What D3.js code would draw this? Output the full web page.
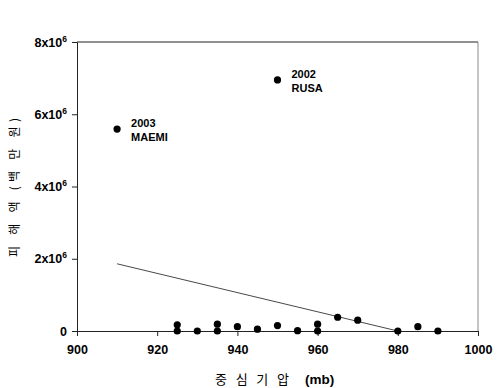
<!DOCTYPE html>
<html>
<head>
<meta charset="utf-8">
<script src="https://cdn.jsdelivr.net/npm/d3@7"></script>
<style>
  body { margin: 0; background: #fff; }
  svg { display: block; }
</style>
</head>
<body>
<svg id="chart"></svg>
<script>
// central pressure (mb) vs damage (million won)
var pressure = [925, 925, 930, 935, 935, 940, 945, 950, 955, 960, 960, 965, 970, 980, 985, 990, 950, 910];
var damage = [170000, 0, 0, 190000, 0, 120000, 50000, 150000, 10000, 190000, 0, 380000, 300000, 0, 120000, 0, 6950000, 5590000];

var labelPressure = [910, 950];
var labelDamage = [5590000, 6950000];
var labelYear = ["2003", "2002"];
var labelName = ["MAEMI", "RUSA"];

var trendX = [910, 980];
var trendY = [1860000, 0];

var xTicks = [900, 920, 940, 960, 980, 1000];
var yTicks = [0, 2000000, 4000000, 6000000, 8000000];

var svg = d3.select("#chart")
    .attr("width", 500)
    .attr("height", 388);

var x = d3.scaleLinear().domain([900, 1000]).range([77, 478]);
var y = d3.scaleLinear().domain([0, 8000000]).range([331, 42]);

var font = "'Liberation Sans', Arial, sans-serif";
var krFont = "'Noto Sans CJK KR', sans-serif";

// frame: top and right lines
svg.append("line")
    .attr("x1", x(900)).attr("x2", x(1000))
    .attr("y1", y(8000000)).attr("y2", y(8000000))
    .attr("stroke", "#222").attr("stroke-width", 1);
svg.append("line")
    .attr("x1", x(1000)).attr("x2", x(1000))
    .attr("y1", y(8000000)).attr("y2", y(0))
    .attr("stroke", "#888").attr("stroke-width", 1);

var xAxis = svg.append("g")
    .attr("transform", "translate(0," + y(0) + ")")
    .call(d3.axisBottom(x).tickValues(xTicks).tickSize(5).tickPadding(9).tickFormat(d3.format("d")));

var yAxis = svg.append("g")
    .attr("transform", "translate(" + x(900) + ",0)")
    .call(d3.axisLeft(y).tickValues(yTicks).tickSize(5).tickPadding(5).tickFormat(""));

[xAxis, yAxis].forEach(function(a) {
  a.select(".domain").attr("stroke", "#222");
  a.selectAll(".tick line").attr("stroke", "#222");
  a.selectAll("text")
    .attr("font-family", font)
    .attr("font-weight", "bold")
    .attr("font-size", 12.5)
    .attr("fill", "#000");
});

// y tick labels with superscript exponent
yAxis.selectAll(".tick").each(function(d) {
  var t = d3.select(this).select("text");
  if (d === 0) {
    t.text("0");
  } else {
    t.text(null);
    t.append("tspan").text((d / 1000000) + "x10");
    t.append("tspan").text("6")
      .attr("font-size", 8.5)
      .attr("dy", -5);
  }
});

// trend line
svg.append("line")
    .attr("x1", x(trendX[0])).attr("y1", y(trendY[0]))
    .attr("x2", x(trendX[1])).attr("y2", y(trendY[1]))
    .attr("stroke", "#333")
    .attr("stroke-width", 0.9);

// points
svg.selectAll(".pt")
  .data(d3.range(pressure.length))
  .enter().append("circle")
    .attr("class", "pt")
    .attr("cx", function(i) { return x(pressure[i]); })
    .attr("cy", function(i) { return y(damage[i]); })
    .attr("r", 3.6)
    .attr("fill", "#000");

// point labels
var lab = svg.selectAll(".lab")
  .data(d3.range(labelYear.length))
  .enter().append("text")
    .attr("class", "lab")
    .attr("font-family", font)
    .attr("font-weight", "bold")
    .attr("font-size", 11)
    .attr("fill", "#000");

lab.append("tspan")
    .attr("x", function(i) { return x(labelPressure[i]) + 14; })
    .attr("y", function(i) { return y(labelDamage[i]) - 2; })
    .text(function(i) { return labelYear[i]; });
lab.append("tspan")
    .attr("x", function(i) { return x(labelPressure[i]) + 14; })
    .attr("y", function(i) { return y(labelDamage[i]) + 12; })
    .text(function(i) { return labelName[i]; });

// axis titles
svg.append("text")
    .attr("x", 215)
    .attr("y", 384)
    .attr("font-family", krFont)
    .attr("font-size", 13)
    .attr("fill", "#000")
    .attr("textLength", 74)
    .attr("lengthAdjust", "spacing")
    .text("중 심 기 압");
svg.append("text")
    .attr("x", 305)
    .attr("y", 384)
    .attr("font-family", font)
    .attr("font-weight", "bold")
    .attr("font-size", 13.5)
    .attr("fill", "#000")
    .text("(mb)");

svg.append("text")
    .attr("transform", "translate(19,257) rotate(-90)")
    .attr("font-family", krFont)
    .attr("font-size", 12)
    .attr("fill", "#000")
    .attr("textLength", 139)
    .attr("lengthAdjust", "spacing")
    .text("피 해 액 (백 만 원)");
</script>
</body>
</html>
